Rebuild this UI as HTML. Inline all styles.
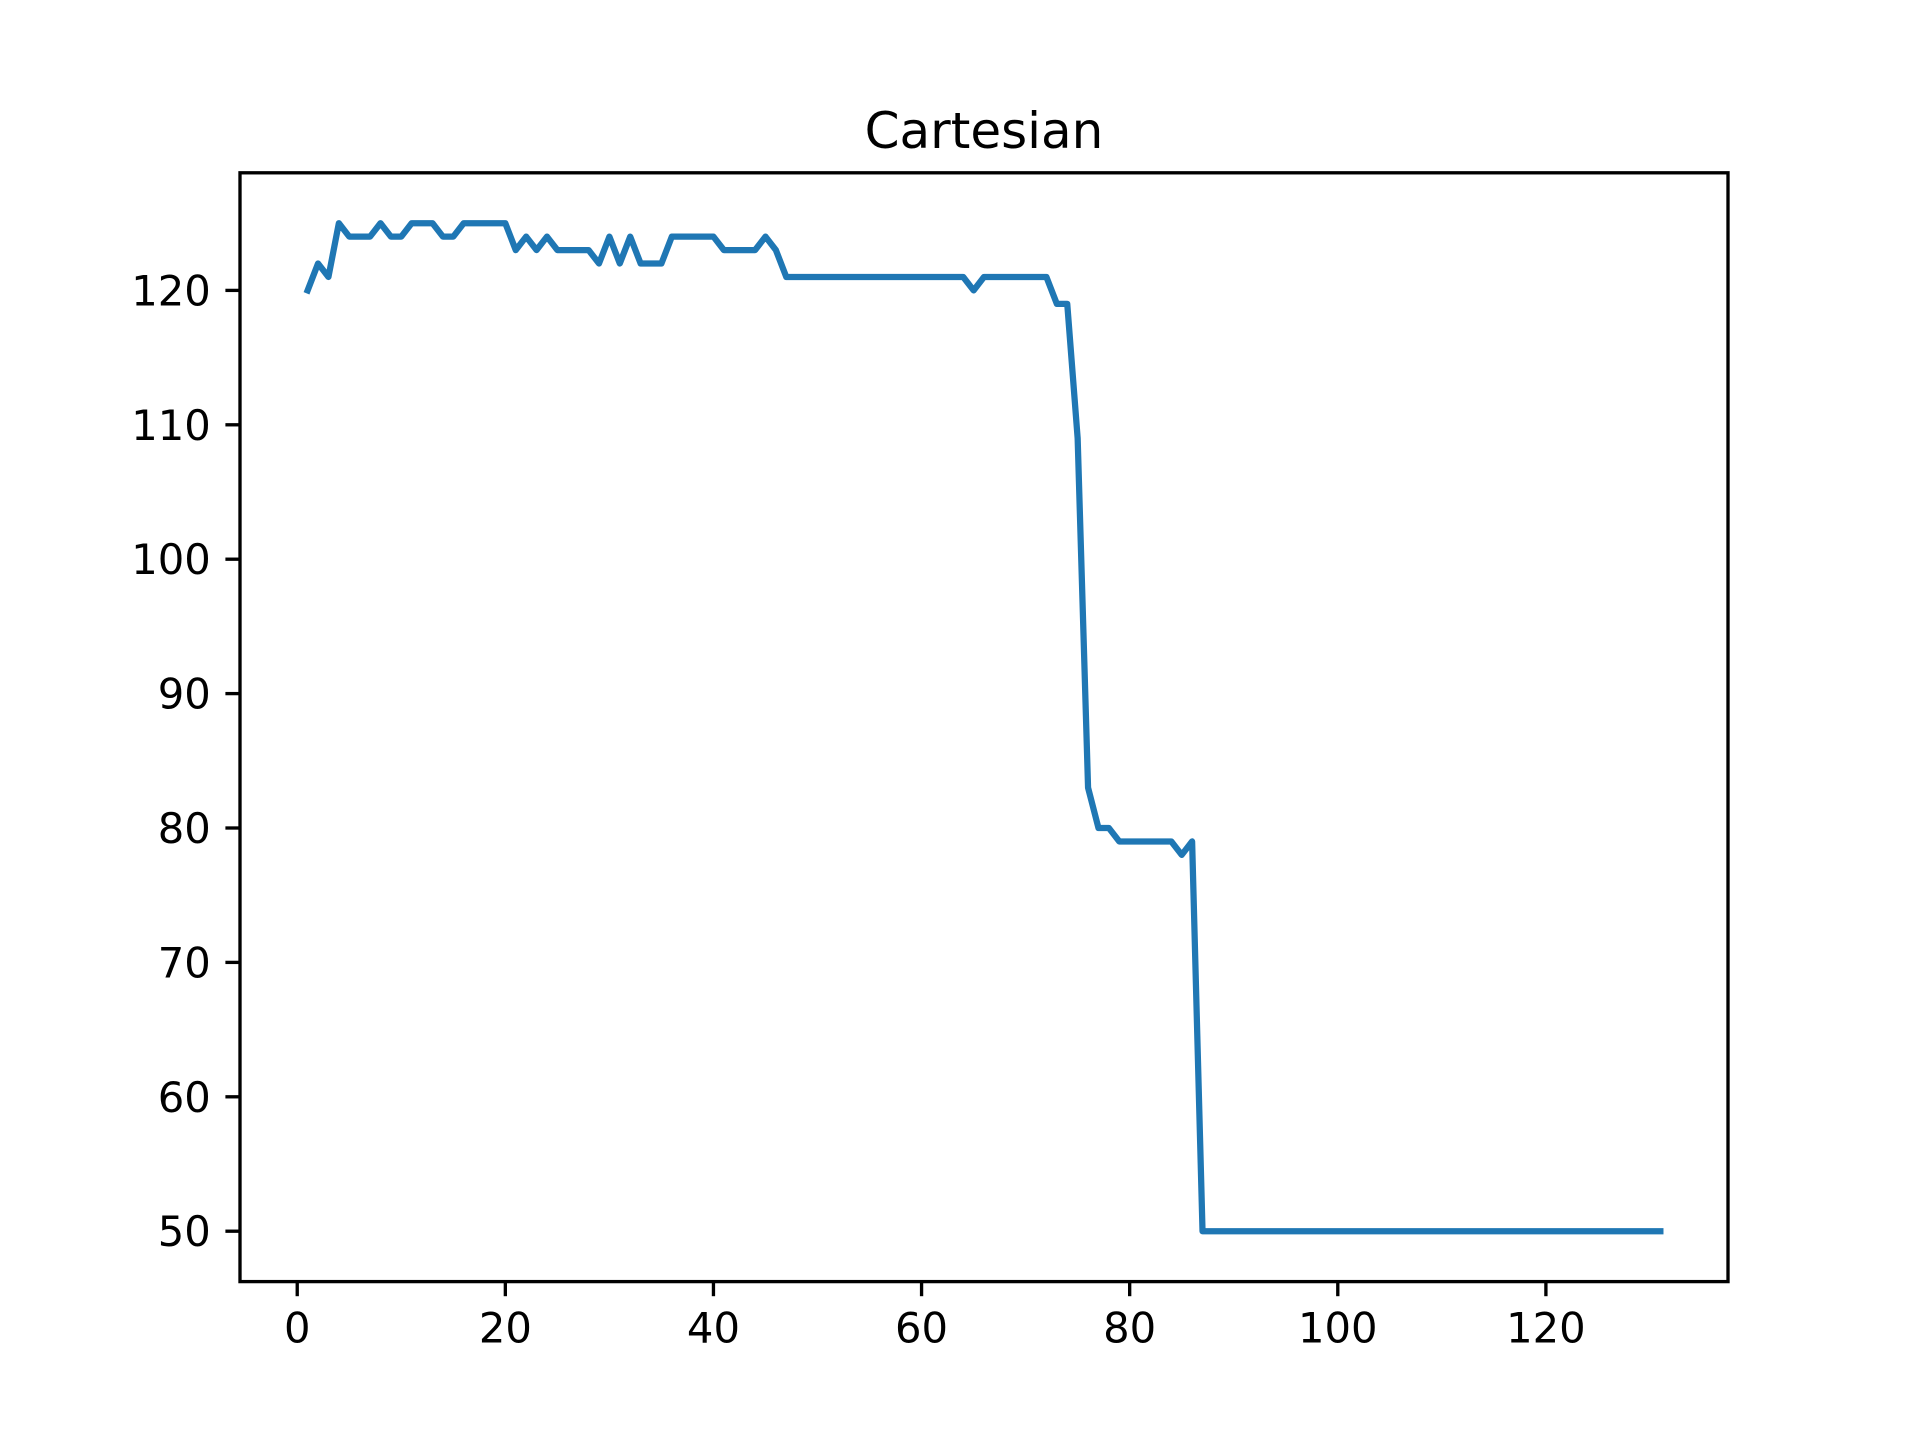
<!DOCTYPE html>
<html><head><meta charset="utf-8"><style>
html,body{margin:0;padding:0;background:#fff;}
svg{display:block;font-family:"DejaVu Sans","Liberation Sans",sans-serif;}
</style></head><body>
<svg id="chart" width="1920" height="1440" viewBox="0 0 1920 1440"></svg>
<script>
const xTicks = [0, 20, 40, 60, 80, 100, 120];
const yTicks = [50, 60, 70, 80, 90, 100, 110, 120];
const xValues = [];
for (let i = 1; i <= 131; i++) xValues.push(i);
const yValues = [120,122,121,125,124,124,124,125,124,124,125,125,125,124,124,125,125,125,125,125,
123,124,123,124,123,123,123,123,122,124,122,124,122,122,122,124,124,124,124,124,
123,123,123,123,124,123,121,121,121,121,121,121,121,121,121,121,121,121,121,121,
121,121,121,121,120,121,121,121,121,121,121,121,119,119,109,83,80,80,79,79,
79,79,79,79,78,79,50,50,50,50,50,50,50,50,50,50,50,50,50,50,
50,50,50,50,50,50,50,50,50,50,50,50,50,50,50,50,50,50,50,50,
50,50,50,50,50,50,50,50,50,50,50];

const svg = document.getElementById('chart');
const NS = 'http://www.w3.org/2000/svg';
const L = 240, R = 1728, T = 172.8, B = 1281.6;
const xmin0 = Math.min(...xValues), xmax0 = Math.max(...xValues);
const ymin0 = Math.min(...yValues), ymax0 = Math.max(...yValues);
const xm = (xmax0 - xmin0) * 0.05, ym = (ymax0 - ymin0) * 0.05;
const xmin = xmin0 - xm, xmax = xmax0 + xm, ymin = ymin0 - ym, ymax = ymax0 + ym;
const sx = v => L + (v - xmin) / (xmax - xmin) * (R - L);
const sy = v => B - (v - ymin) / (ymax - ymin) * (B - T);
function mk(tag, attrs, text) {
  const e = document.createElementNS(NS, tag);
  for (const k in attrs) e.setAttribute(k, attrs[k]);
  if (text !== undefined) e.textContent = text;
  svg.appendChild(e);
  return e;
}

const title = mk('text', {x: (L + R) / 2, y: T - 25, 'text-anchor': 'middle', 'font-size': 50, fill: '#000'}, 'Cartesian');



const pts = xValues.map((x, i) => sx(x).toFixed(2) + ',' + sy(yValues[i]).toFixed(2)).join(' ');
const line = mk('polyline', {points: pts, fill: 'none', stroke: '#1f77b4', 'stroke-width': 6.25, 'stroke-linejoin': 'round', 'stroke-linecap': 'square'});



const frame = mk('rect', {x: L, y: T, width: R - L, height: B - T, fill: 'none', stroke: '#000', 'stroke-width': 3.33});



xTicks.forEach(v => {
  const x = sx(v);
  const t = mk('line', {x1: x, x2: x, y1: B, y2: B + 14.6, stroke: '#000', 'stroke-width': 3.33});
  
  
  const lb = mk('text', {x: x, y: B + 61, 'text-anchor': 'middle', 'font-size': 41.7, fill: '#000'}, String(v));
  
  
});
yTicks.forEach(v => {
  const y = sy(v);
  const t = mk('line', {x1: L - 14.6, x2: L, y1: y, y2: y, stroke: '#000', 'stroke-width': 3.33});
  
  
  const lb = mk('text', {x: L - 14.6 - 14.6, y: y + 15, 'text-anchor': 'end', 'font-size': 41.7, fill: '#000'}, String(v));
  
  
});
</script>
</body></html>
